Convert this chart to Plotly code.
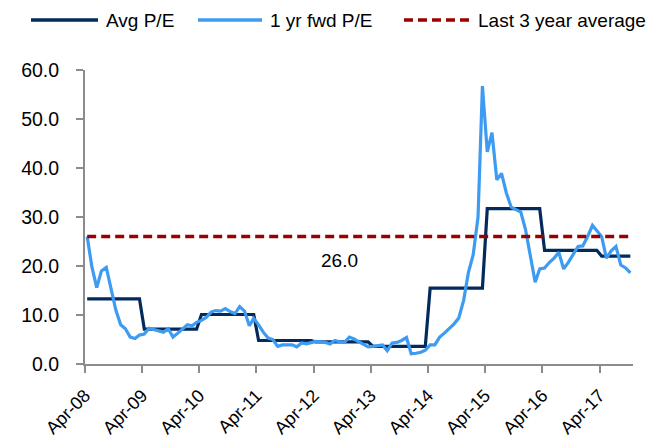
import pandas as pd
import plotly.graph_objects as go

# ---------------- data ----------------
series_names = ["Avg P/E", "1 yr fwd P/E", "Last 3 year average"]
first_month = "2008-04-01"

avg_pe = [
    13.3, 13.3, 13.3, 13.3, 13.3, 13.3, 13.3, 13.3, 13.3, 13.3, 13.3, 13.3,
    7.1, 7.1, 7.1, 7.1, 7.1, 7.1, 7.1, 7.1, 7.1, 7.1, 7.1, 7.1,
    10.1, 10.1, 10.1, 10.1, 10.1, 10.1, 10.1, 10.1, 10.1, 10.1, 10.1, 10.1,
    4.8, 4.8, 4.8, 4.8, 4.8, 4.8, 4.8, 4.8, 4.8, 4.8, 4.8, 4.8,
    4.5, 4.5, 4.5, 4.5, 4.5, 4.5, 4.5, 4.5, 4.5, 4.5, 4.5, 4.5,
    3.6, 3.6, 3.6, 3.6, 3.6, 3.6, 3.6, 3.6, 3.6, 3.6, 3.6, 3.6,
    15.5, 15.5, 15.5, 15.5, 15.5, 15.5, 15.5, 15.5, 15.5, 15.5, 15.5, 15.5,
    31.7, 31.7, 31.7, 31.7, 31.7, 31.7, 31.7, 31.7, 31.7, 31.7, 31.7, 31.7,
    23.2, 23.2, 23.2, 23.2, 23.2, 23.2, 23.2, 23.2, 23.2, 23.2, 23.2, 23.2,
    22.0, 22.0, 22.0, 22.0, 22.0, 22.0, 22.0,
]

fwd_pe = [
    26.0, 19.8, 15.6, 19.0, 19.7, 15.2, 11.0, 8.0, 7.2, 5.5, 5.2, 5.9,
    6.1, 7.3, 7.0, 6.8, 6.5, 7.2, 5.5, 6.3, 7.2, 8.0, 7.8, 8.5,
    8.9, 9.5, 10.6, 10.9, 10.8, 11.3, 10.7, 10.3, 11.7, 10.8, 7.8, 9.3,
    8.0, 6.5, 5.3, 5.0, 3.6, 3.9, 3.9, 3.9, 3.5, 4.3, 4.1, 4.3,
    4.6, 4.5, 4.4, 4.1, 4.8, 4.5, 4.4, 5.5, 5.1, 4.5, 4.0, 3.5,
    3.6, 3.8, 3.9, 2.7, 4.3, 4.4, 4.8, 5.4, 2.1, 2.2, 2.4, 2.8,
    3.9, 3.9, 5.5, 6.3, 7.2, 8.2, 9.4, 13.0, 18.6, 22.3, 30.0, 56.7,
    43.3, 47.2, 37.6, 38.9, 34.9, 32.0, 31.5, 31.0, 27.5, 22.5, 16.7, 19.4,
    19.6, 20.7, 21.6, 22.8, 19.4, 20.8, 22.5, 24.0, 24.1, 26.0, 28.3, 27.3,
    26.0, 21.6, 23.1, 24.0, 20.2, 19.6, 18.6,
]

last3_avg = 26.0

tick_labels = ["Apr-08", "Apr-09", "Apr-10", "Apr-11", "Apr-12",
               "Apr-13", "Apr-14", "Apr-15", "Apr-16", "Apr-17"]
y_ticks = [0, 10, 20, 30, 40, 50, 60]

# ---------------- derived ----------------
n = len(fwd_pe)
dates = pd.date_range(first_month, periods=n, freq="MS") + pd.Timedelta(days=14)
tick_vals = pd.date_range(first_month, periods=len(tick_labels), freq="12MS")
avg_line = [last3_avg] * n

colors = ["#022a5c", "#3d9cf2", "#9b0000"]
FONT = "Liberation Sans, Arial, sans-serif"

# the page body has an 8px margin: the figure is drawn at (8, 8)
OFF = 8
W, H = 654 - OFF, 439 - OFF
ML, MR, MT, MB = 85 - OFF, 21, 70 - OFF, 75
PW, PH = W - ML - MR, H - MT - MB


def px_x(p):
    return (p - OFF - ML) / PW


def px_y(p):
    return 1 + (MT - (p - OFF)) / PH


fig = go.Figure()
fig.add_trace(go.Scatter(x=dates, y=avg_pe, mode="lines", name=series_names[0],
                         line=dict(color=colors[0], width=3.2), showlegend=False))
fig.add_trace(go.Scatter(x=dates, y=fwd_pe, mode="lines", name=series_names[1],
                         line=dict(color=colors[1], width=3.2), showlegend=False))
fig.add_trace(go.Scatter(x=dates, y=avg_line, mode="lines", name=series_names[2],
                         line=dict(color=colors[2], width=3.5, dash="9px,5px"),
                         showlegend=False))

# value label of the 3-year average
fig.add_annotation(x=dates[53], y=21.1, xref="x", yref="y",
                   text=f"{last3_avg:.1f}", showarrow=False,
                   font=dict(family=FONT, size=19, color="#000000"))

# manual legend (longer line samples like the reference)
legend_items = [(31, 98, 104), (198, 262, 268), (404, 469, 476)]
leg_y = 20
for (x0, x1, xt), name, col, dash in zip(legend_items, series_names, colors,
                                        ["solid", "solid", "9px,5px"]):
    fig.add_shape(type="line", xref="paper", yref="paper",
                  x0=px_x(x0), x1=px_x(x1), y0=px_y(leg_y), y1=px_y(leg_y),
                  line=dict(color=col, width=3.5, dash=dash))
    fig.add_annotation(x=px_x(xt), y=px_y(leg_y), xref="paper", yref="paper",
                       xanchor="left", yanchor="middle", text=name,
                       showarrow=False,
                       font=dict(family=FONT, size=19, color="#000000"))

axis_col = "#8c8c8c"
fig.update_xaxes(
    type="date", range=[first_month, "2017-11-01"],
    tickvals=tick_vals, ticktext=tick_labels, tickangle=-45,
    showline=True, linecolor=axis_col, linewidth=2,
    ticks="outside", ticklen=7, tickwidth=2, tickcolor=axis_col,
    showgrid=False, zeroline=False,
    tickfont=dict(family=FONT, size=18, color="#000000"),
    ticklabelstandoff=5,
    automargin=False,
)
fig.update_yaxes(
    range=[0, 60], tickvals=y_ticks, ticktext=[f"{v:.1f}" for v in y_ticks],
    showline=True, linecolor=axis_col, linewidth=2,
    ticks="outside", ticklen=7, tickwidth=2, tickcolor=axis_col,
    showgrid=False, zeroline=False,
    tickfont=dict(family=FONT, size=19.5, color="#000000"),
    ticklabelstandoff=13,
    automargin=False,
)
fig.update_layout(
    width=W, height=H,
    margin=dict(l=ML, r=MR, t=MT, b=MB),
    paper_bgcolor="white", plot_bgcolor="white",
    font=dict(family=FONT, color="#000000"),
    showlegend=False,
)

fig.write_html("out.html")
